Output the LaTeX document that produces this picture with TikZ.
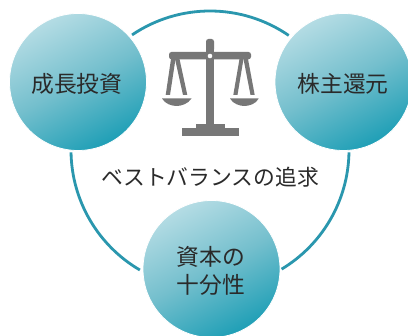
\documentclass[tikz,border=0pt]{standalone}
\usepackage{fontspec}
\newfontfamily\jp{Noto Sans CJK JP}
\definecolor{ringc}{HTML}{2A97AE}
\definecolor{lightc}{HTML}{B4DCE4}
\definecolor{midc}{HTML}{74BFCD}
\definecolor{darkc}{HTML}{1F9FB6}
\definecolor{scalec}{HTML}{777777}
\definecolor{txtc}{HTML}{2A2A2A}
\tikzset{
  ball/.style={circle,minimum size=137pt,inner sep=0pt,draw=white,line width=0.8pt,
    top color=lightc,bottom color=darkc,middle color=midc,shading angle=28},
  balltext/.style={font=\jp\fontsize{22.8}{28}\selectfont,text=txtc,align=center,inner sep=0pt},
  ringarc/.style={draw=ringc,line width=2.8pt},
  scalepart/.style={fill=scalec,draw=none},
  caption/.style={font=\jp\fontsize{21.8}{26}\selectfont,text=txtc,inner sep=0pt}
}
\begin{document}
\begin{tikzpicture}[x=1pt,y=1pt]
\useasboundingbox (0,0) rectangle (408,336);
\fill[white] (0,0) rectangle (408,336);
\coordinate (ring) at (210,186);
\draw[ringarc] (ring) ++(124.1:139pt) arc[start angle=124.1,end angle=55.5,radius=139pt];
\draw[ringarc] (ring) ++(181:139pt) arc[start angle=181,end angle=239.7,radius=139pt];
\draw[ringarc] (ring) ++(359:139pt) arc[start angle=359,end angle=301,radius=139pt];
\node[ball] (growth) at (78,254) {};
\node[ball] (return) at (343.5,254) {};
\node[ball] (capital) at (211.5,67) {};
\node[balltext] (growthtext) at (77,252.5) {成長投資};
\node[balltext] (returntext) at (343,252.5) {株主還元};
\node[balltext] (capitaltext) at (211,65.5) {資本の\\十分性};
\node[caption] (goal) at (210,158.5) {ベストバランスの追求};
\begin{scope}[shift={(0,336)},yscale=-1]
  % pole, beam, base
  \fill[scalepart,rounded corners=2.5pt] (206,52) -- (206,39) -- (214,39) -- (214,52) -- cycle;
  \fill[scalepart] (206,50) rectangle (214,125);
  \fill[scalepart,rounded corners=2.5pt] (169,52) rectangle (251,59.3);
  \fill[scalepart] (196,124) rectangle (225,129);
  \fill[scalepart] (182,128.5) rectangle (239,136);
  \fill[scalec] (210,56) circle (5pt);
  \fill[white] (210,56) circle (2.3pt);
  % left hanger
  \fill[scalepart] (171,59) -- (165.7,95) -- (170,95) -- (175.5,59) -- cycle;
  \fill[scalepart] (175,59) -- (183,95) -- (187.3,95) -- (179.5,59) -- cycle;
  \fill[scalepart] (162,98.5) -- (191.5,98.5) .. controls (188,104) and (181,106) .. (176.7,106) .. controls (172,106) and (165,104) .. cycle;
  % right hanger
  \fill[scalepart] (239.5,59) -- (233.3,95) -- (237.5,95) -- (243.5,59) -- cycle;
  \fill[scalepart] (243.5,59) -- (250.5,95) -- (254.7,95) -- (248,59) -- cycle;
  \fill[scalepart] (230,98.5) -- (258.7,98.5) .. controls (256,104) and (249,106) .. (244.3,106) .. controls (240,106) and (233,104) .. cycle;
\end{scope}
\end{tikzpicture}
\end{document}
